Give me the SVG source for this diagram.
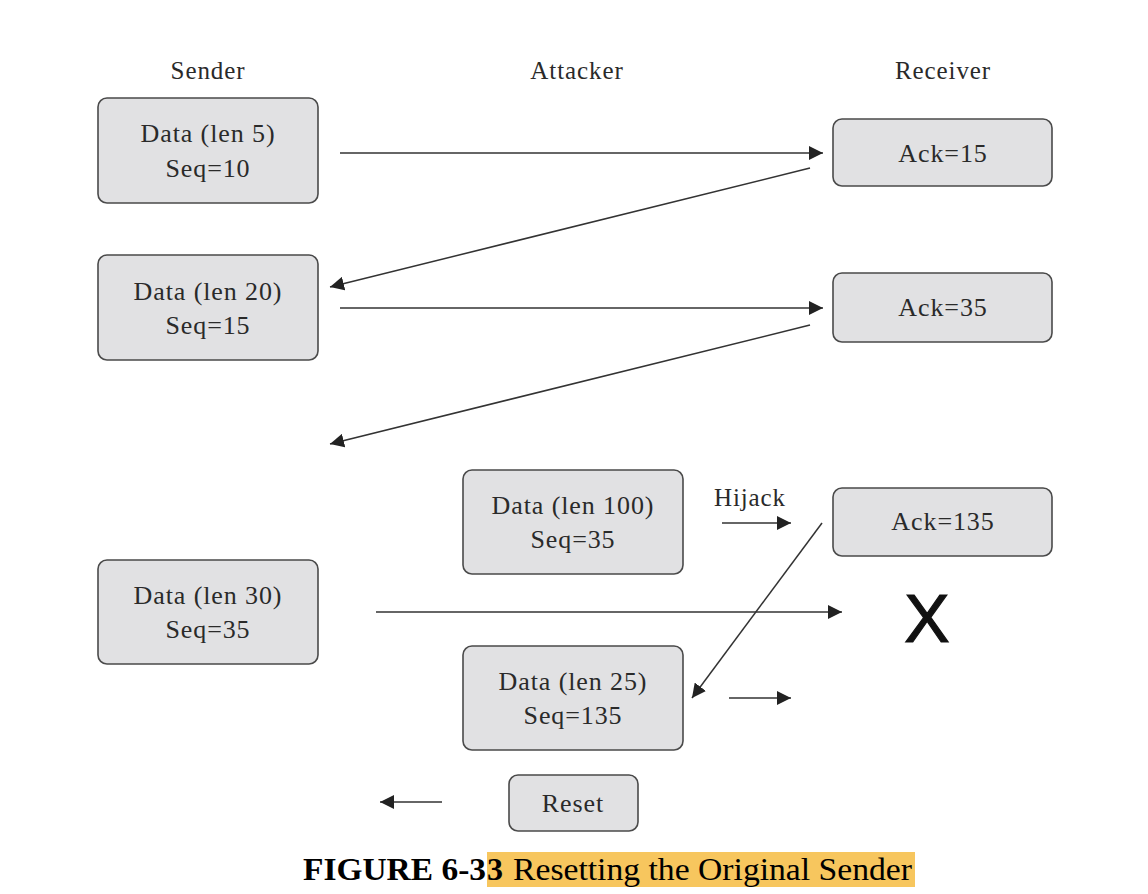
<svg xmlns="http://www.w3.org/2000/svg" width="1148" height="894" viewBox="0 0 1148 894">
<defs>
<marker id="ah" viewBox="0 0 10 10" refX="10" refY="5" markerWidth="14" markerHeight="14" markerUnits="userSpaceOnUse" orient="auto">
<path d="M0,0 L10,5 L0,10 z" fill="#222"/>
</marker>
</defs>
<style>
.box{fill:#e1e1e3;stroke:#4a4a4a;stroke-width:1.6}
.t{font-family:"Liberation Serif",serif;font-size:26px;letter-spacing:0.9px;fill:#2a2a2a;text-anchor:middle}
.h{font-family:"Liberation Serif",serif;font-size:25px;letter-spacing:0.9px;fill:#2a2a2a;text-anchor:middle}
.c{stroke:#333;stroke-width:1.5;fill:none;marker-end:url(#ah)}
.cap{font-family:"Liberation Serif",serif;font-size:32px;fill:#000}
</style>
<rect width="1148" height="894" fill="#fff"/>
<g id="headers">
<text class="h" x="208" y="79">Sender</text>
<text class="h" x="577" y="79">Attacker</text>
<text class="h" x="943" y="79">Receiver</text>
</g>
<g id="s1"><rect class="box" x="98" y="98" width="220" height="105" rx="9"/>
<text class="t" x="208" y="142">Data (len 5)</text><text class="t" x="208" y="177">Seq=10</text></g>
<g id="r1"><rect class="box" x="833" y="119" width="219" height="67" rx="9"/>
<text class="t" x="943" y="162">Ack=15</text></g>
<g id="s2"><rect class="box" x="98" y="255" width="220" height="105" rx="9"/>
<text class="t" x="208" y="300">Data (len 20)</text><text class="t" x="208" y="334">Seq=15</text></g>
<g id="r2"><rect class="box" x="833" y="273" width="219" height="69" rx="9"/>
<text class="t" x="943" y="316">Ack=35</text></g>
<g id="a1"><rect class="box" x="463" y="470" width="220" height="104" rx="9"/>
<text class="t" x="573" y="514">Data (len 100)</text><text class="t" x="573" y="548">Seq=35</text></g>
<g id="r3"><rect class="box" x="833" y="488" width="219" height="68" rx="9"/>
<text class="t" x="943" y="530">Ack=135</text></g>
<g id="s3"><rect class="box" x="98" y="560" width="220" height="104" rx="9"/>
<text class="t" x="208" y="604">Data (len 30)</text><text class="t" x="208" y="638">Seq=35</text></g>
<g id="a2"><rect class="box" x="463" y="646" width="220" height="104" rx="9"/>
<text class="t" x="573" y="690">Data (len 25)</text><text class="t" x="573" y="724">Seq=135</text></g>
<g id="reset"><rect class="box" x="509" y="775" width="129" height="56" rx="9"/>
<text class="t" x="573" y="812">Reset</text></g>
<g id="x"><text x="927" y="642" font-family="Liberation Sans,sans-serif" font-size="68" fill="#111" stroke="#111" stroke-width="1.2" text-anchor="middle">X</text></g>
<g id="connectors">
<line class="c" x1="340" y1="153" x2="823" y2="153"/>
<line class="c" x1="810" y1="168" x2="330" y2="287"/>
<line class="c" x1="340" y1="308" x2="823" y2="308"/>
<line class="c" x1="810" y1="325" x2="330" y2="444"/>
<line class="c" x1="722" y1="523" x2="791" y2="523"/>
<text class="h" x="750" y="506">Hijack</text>
<line class="c" x1="376" y1="612" x2="842" y2="612"/>
<line class="c" x1="822" y1="523" x2="692" y2="698"/>
<line class="c" x1="729" y1="698" x2="791" y2="698"/>
<line class="c" x1="442" y1="802" x2="380" y2="802"/>
</g>
<g id="caption">
<rect x="487" y="852" width="428" height="35" fill="#f7c65e"/>
<text class="cap" x="303" y="880" font-weight="bold" textLength="183" lengthAdjust="spacingAndGlyphs">FIGURE 6-3</text>
<text class="cap" x="487" y="880" font-weight="bold">3</text>
<text class="cap" x="513" y="880" textLength="399" lengthAdjust="spacingAndGlyphs">Resetting the Original Sender</text>
</g>
</svg>
